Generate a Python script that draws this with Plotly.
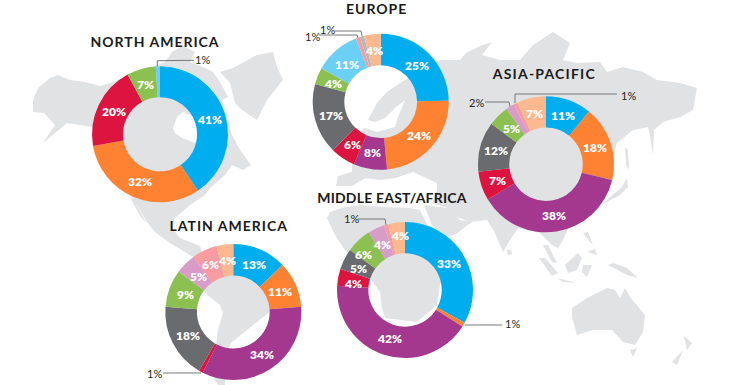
import math
import plotly.graph_objects as go

# ---- data ----
na_keys = ["blue", "orange", "red", "green", "sky"]
na_vals = [41, 32, 20, 7, 1]
eu_keys = ["blue", "orange", "purple", "red", "gray", "green", "sky", "pink", "silver", "peach"]
eu_vals = [25, 24, 8, 6, 17, 4, 11, 1, 1, 4]
ap_keys = ["blue", "orange", "purple", "red", "gray", "green", "mauve", "pink", "peach"]
ap_vals = [11, 18, 38, 7, 12, 5, 2, 1, 7]
me_keys = ["blue", "orange", "purple", "red", "gray", "green", "mauve", "pink", "peach"]
me_vals = [33, 1, 42, 4, 5, 6, 4, 1, 4]
la_keys = ["blue", "orange", "purple", "red", "gray", "green", "mauve", "pink", "peach"]
la_vals = [13, 11, 34, 1, 18, 9, 5, 6, 4]

COLORS = {"blue": "#00AEEF", "orange": "#FF8233", "purple": "#A4388F", "red": "#DC143F",
          "gray": "#6A6B6F", "green": "#8CC152", "sky": "#6CCFF6", "mauve": "#D89CC8",
          "pink": "#F99BA0", "silver": "#B7B8BA", "peach": "#FDB98D"}

W, H = 730, 385
R = 68
REGIONS = [
    ("NORTH AMERICA", na_keys, na_vals, (160, 134.3), .545, (154.5, 41)),
    ("EUROPE", eu_keys, eu_vals, (380.7, 101.7), .535, (376.5, 8)),
    ("ASIA-PACIFIC", ap_keys, ap_vals, (546, 164.3), .54, (544, 73)),
    ("MIDDLE EAST/AFRICA", me_keys, me_vals, (405, 290), .54, (392, 197)),
    ("LATIN AMERICA", la_keys, la_vals, (233.3, 312), .535, (229, 225)),
]
TITLE_SPACING = {"NORTH AMERICA": 1.0, "EUROPE": 1.0, "ASIA-PACIFIC": 1.2, "MIDDLE EAST/AFRICA": 0.2, "LATIN AMERICA": 1.0}

# outside labels (text position, leader path)
OUTSIDE = [
    ("1%", (202, 59.5), [(157.3, 68), (157.3, 60.7), (194, 60.3)]),
    ("1%", (327, 29), [(335, 31), (361, 31), (362, 36)]),
    ("1%", (312, 36.5), [(319, 35), (357, 35), (358, 38)]),
    ("2%", (476, 102), [(485, 102), (509, 102), (510, 107)]),
    ("1%", (628, 95), [(617, 94), (515, 94), (515, 103)]),
    ("1%", (351, 218.5), [(358, 219), (385, 219), (386, 225)]),
    ("1%", (512, 323), [(502, 325), (465, 325)]),
    ("1%", (154, 373), [(163, 373), (201, 373)]),
]
SMALL = {("NORTH AMERICA", 4), ("EUROPE", 7), ("EUROPE", 8), ("ASIA-PACIFIC", 6), ("ASIA-PACIFIC", 7),
         ("MIDDLE EAST/AFRICA", 1), ("MIDDLE EAST/AFRICA", 7), ("LATIN AMERICA", 3)}
# hand-placed labels in the narrow slices
LABEL_AT = {
    ("NORTH AMERICA", 3): (145, 84),
    ("EUROPE", 9): (374, 50), ("EUROPE", 6): (347, 64), ("EUROPE", 5): (333, 83),
    ("ASIA-PACIFIC", 8): (534, 113), ("ASIA-PACIFIC", 5): (511, 128),
    ("MIDDLE EAST/AFRICA", 8): (400, 235), ("MIDDLE EAST/AFRICA", 6): (382, 244),
    ("MIDDLE EAST/AFRICA", 5): (363, 254), ("MIDDLE EAST/AFRICA", 4): (358, 268),
    ("MIDDLE EAST/AFRICA", 3): (353, 283),
    ("LATIN AMERICA", 8): (227, 260), ("LATIN AMERICA", 7): (210, 264), ("LATIN AMERICA", 6): (198, 276),
}

# background map outlines
LAND = [
    # North America
    [(33,100),(38,88),(50,78),(58,75),(70,80),(85,82),(100,86),(120,80),(140,72),(165,62),(172,52),(183,46),(195,52),(190,62),(205,68),(213,72),(220,82),(228,97),(222,100),(226,115),(232,135),(240,150),(251,165),(243,170),(232,165),(225,175),(210,188),(205,195),(190,205),(175,218),(172,228),(180,238),(200,246),(205,262),(190,255),(170,243),(155,232),(147,222),(137,205),(128,192),(120,190),(105,160),(92,127),(67,123),(43,143),(55,125),(44,113),(33,112)],
    # Baja
    [(130,197),(134,200),(147,224),(140,216)],
    # Greenland
    [(220,72),(233,68),(257,55),(273,52),(277,67),(283,80),(267,100),(257,120),(242,110),(235,103),(230,83)],
    # South America
    [(200,255),(260,270),(275,300),(270,312),(262,318),(247,330),(232,342),(226,352),(225,385),(218,385),(212,375),(216,345),(218,330),(223,313),(220,305),(205,293),(200,280)],
    # Eurasia
    [(336,186),(338,176),(352,172),(352,150),(358,133),(365,128),(377,132),(395,127),(398,117),(405,100),(395,108),(385,118),(375,122),(368,120),(377,103),(387,92),(400,83),(413,75),(440,60),(460,60),(466,53),(480,46),(492,42),(482,55),(500,60),(520,60),(533,45),(553,32),(570,43),(563,60),(577,63),(600,62),(607,72),(623,67),(643,72),(657,80),(680,83),(697,88),(693,110),(680,117),(663,122),(654,130),(653,155),(650,135),(648,127),(633,130),(617,143),(612,160),(605,170),(600,195),(585,205),(570,225),(563,240),(558,248),(552,245),(540,233),(518,228),(510,240),(503,252),(495,233),(487,220),(470,222),(457,217),(448,208),(432,203),(437,190),(437,183),(413,172),(395,178),(380,180),(365,178),(352,186)],
    # Sakhalin
    [(625,147),(628,150),(629,170),(626,165)],
    # Japan
    [(603,203),(612,195),(622,187),(627,178),(628,187),(620,195),(607,202)],
    # Africa
    [(327,218),(330,212),(345,207),(360,205),(385,207),(410,208),(420,210),(432,235),(445,262),(445,270),(440,285),(437,305),(423,317),(417,322),(385,318),(382,308),(380,292),(368,275),(345,250),(335,235)],
    # Arabia
    [(424,205),(448,208),(460,220),(472,222),(465,227),(455,235),(445,237),(432,225)],
    # Sri Lanka
    [(507,250),(511,250),(512,254),(508,255)],
    # Indonesia and neighbours
    [(539,258),(545,258),(558,273),(552,276)],
    [(557,278),(575,282),(577,283),(563,282)],
    [(565,265),(578,253),(582,258),(577,270),(568,273)],
    [(583,265),(592,265),(587,277),(582,272)],
    [(583,233),(588,232),(593,245),(590,242)],
    [(587,252),(595,249),(597,255)],
    [(608,265),(613,263),(627,268),(638,278),(627,275),(617,270)],
    # Malay peninsula
    [(543,245),(548,245),(557,263),(552,262)],
    # Australia
    [(572,308),(587,298),(607,288),(615,290),(620,298),(625,288),(630,297),(645,315),(643,332),(635,345),(623,342),(612,330),(593,330),(577,335),(572,317)],
    [(630,350),(637,348),(633,357)],
    [(684,336),(692,343),(687,350),(686,345)],
    [(672,362),(683,350),(677,365)],
]
WATER = [
    [(173,128),(177,117),(183,112),(195,117),(200,130),(196,143),(182,138),(175,133)],
]

# ---- figure ----
fig = go.Figure()


def poly_trace(polys, color):
    xs, ys = [], []
    for p in polys:
        xs += [q[0] for q in p] + [p[0][0], None]
        ys += [q[1] for q in p] + [p[0][1], None]
    return go.Scatter(x=xs, y=ys, mode="lines", fill="toself", fillcolor=color, line=dict(width=0),
                      hoverinfo="skip", showlegend=False)


fig.add_trace(poly_trace(LAND, "#E1E2E4"))
fig.add_trace(poly_trace(WATER, "#FFFFFF"))

for _, pos, path in OUTSIDE:
    fig.add_trace(go.Scatter(x=[p[0] for p in path], y=[p[1] for p in path], mode="lines",
                             line=dict(color="#77787B", width=1), hoverinfo="skip", showlegend=False))

annotations = []
for name, keys, vals, (cx, cy), hole, tpos in REGIONS:
    fig.add_trace(go.Pie(
        values=vals, labels=keys, sort=False, direction="clockwise", rotation=0, hole=hole,
        domain=dict(x=[(cx - R) / W, (cx + R) / W], y=[1 - (cy + R) / H, 1 - (cy - R) / H]),
        marker=dict(colors=[COLORS[k] for k in keys], line=dict(width=0)),
        textinfo="none", hoverinfo="skip", showlegend=False))
    total = sum(vals)
    cum = 0
    for i, v in enumerate(vals):
        a = 2 * math.pi * (cum + v / 2) / total
        cum += v
        if (name, i) in SMALL:
            continue
        rr = R * .755
        lx, ly = LABEL_AT.get((name, i), (cx + rr * math.sin(a), cy - rr * math.cos(a)))
        annotations.append(dict(x=lx, y=ly, xref="x", yref="y",
                                text=f"{v}%", showarrow=False,
                                font=dict(family="Lato", size=12, color="#FFFFFF", weight=800)))
    annotations.append(dict(x=tpos[0], y=tpos[1], xref="x", yref="y", text=name, showarrow=False,
                            font=dict(family="Lato", size=14, color="#1A1A1A", weight=700)))
for txt, pos, _ in OUTSIDE:
    annotations.append(dict(x=pos[0], y=pos[1], xref="x", yref="y", text=txt, showarrow=False,
                            font=dict(family="Lato", size=11, color="#231F20")))

fig.update_layout(
    width=W, height=H, margin=dict(l=0, r=0, t=0, b=0, pad=0), autosize=False,
    paper_bgcolor="#FFFFFF", plot_bgcolor="rgba(0,0,0,0)", showlegend=False,
    xaxis=dict(range=[0, W], visible=False, fixedrange=True),
    yaxis=dict(range=[H, 0], visible=False, fixedrange=True),
    annotations=annotations,
)
spacing_js = ",".join(f'"{k}":{v}' for k, v in TITLE_SPACING.items())
fig.write_html("out.html", config=dict(displayModeBar=False),
               post_script="document.body.style.margin='0';document.body.style.overflow='hidden';"
                           "var s={" + spacing_js + "};"
                           "document.querySelectorAll('.annotation-text').forEach(function(t){"
                           "var v=s[t.textContent];if(v){t.style.letterSpacing=v+'px';}});")
